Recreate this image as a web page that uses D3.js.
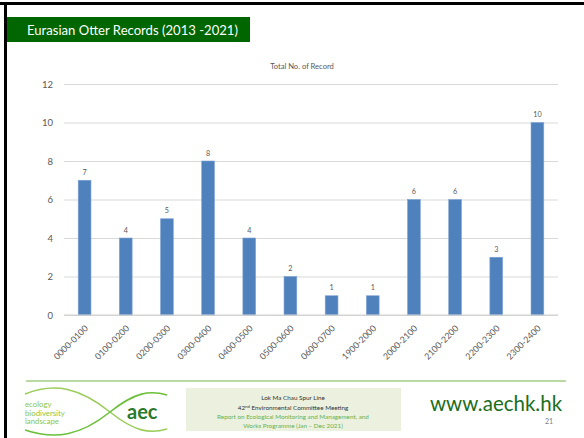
<!DOCTYPE html>
<html>
<head>
<meta charset="utf-8">
<script src="https://cdn.jsdelivr.net/npm/d3@7"></script>
<style>
  html, body { margin: 0; padding: 0; background: #fff; }
  svg { display: block; }
  text { font-family: Lato, "Open Sans", sans-serif; }
</style>
</head>
<body>
<svg id="slide" width="584" height="438"></svg>
<script>
// Records per hourly interval
const categories = ["0000-0100", "0100-0200", "0200-0300", "0300-0400", "0400-0500", "0500-0600",
                    "0600-0700", "1900-2000", "2000-2100", "2100-2200", "2200-2300", "2300-2400"];
const records = [7, 4, 5, 8, 4, 2, 1, 1, 6, 6, 3, 10];
const yTicks = [0, 2, 4, 6, 8, 10, 12];

const slideTitle = "Eurasian Otter Records (2013 -2021)";
const chartTitle = "Total No. of Record";
const footerLines = ["Lok Ma Chau Spur Line", "Environmental Committee Meeting",
                     "Report on Ecological Monitoring and Management, and",
                     "Works Programme (Jan \u2013 Dec 2021)"];

const svg = d3.select("#slide");

// slide frame
svg.append("rect").attr("x", 0).attr("y", 2).attr("width", 584).attr("height", 3).attr("fill", "#000");
svg.append("rect").attr("x", 4).attr("y", 2).attr("width", 3).attr("height", 436).attr("fill", "#000");

// title banner
svg.append("rect").attr("x", 7).attr("y", 17).attr("width", 243).attr("height", 25).attr("fill", "#006600");
svg.append("text").attr("x", 27).attr("y", 34.5).attr("fill", "#fff").attr("font-size", 13.1)
  .text(slideTitle);

// chart
const margin = { left: 64, right: 558, top: 84, bottom: 315 };
const x = d3.scaleBand().domain(categories).range([margin.left, margin.right]).paddingInner(0.69).paddingOuter(0.345);
const y = d3.scaleLinear().domain([0, 12]).range([margin.bottom, margin.top]);

svg.append("text").attr("x", 302).attr("y", 68.5).attr("text-anchor", "middle")
  .attr("font-size", 7.6).attr("fill", "#595959").text(chartTitle);

const yAxis = svg.append("g").attr("transform", `translate(${margin.left},0)`)
  .call(d3.axisLeft(y).tickValues(yTicks).tickSize(-(margin.right - margin.left)).tickPadding(11));
yAxis.select(".domain").remove();
yAxis.selectAll(".tick line").attr("stroke", "#d9d9d9").attr("stroke-width", 1);
yAxis.selectAll(".tick text").attr("fill", "#595959").attr("font-size", 9.5)
  .attr("font-family", "Lato, sans-serif");

svg.append("g").selectAll("rect").data(records).join("rect")
  .attr("x", (d, i) => x(categories[i]))
  .attr("y", d => y(d))
  .attr("width", x.bandwidth())
  .attr("height", d => y(0) - y(d))
  .attr("fill", "#4f81bd")
  .attr("stroke", "#7fa3d3").attr("stroke-width", 0.6);

svg.append("g").selectAll("text").data(records).join("text")
  .attr("x", (d, i) => x(categories[i]) + x.bandwidth() / 2)
  .attr("y", d => y(d) - 5.5)
  .attr("text-anchor", "middle").attr("font-size", 7.2).attr("fill", "#595959")
  .text(d => d);

// baseline
svg.append("line").attr("x1", margin.left).attr("x2", margin.right)
  .attr("y1", y(0)).attr("y2", y(0)).attr("stroke", "#d0d0d0");

const xAxis = svg.append("g").attr("transform", `translate(0,${margin.bottom})`)
  .call(d3.axisBottom(x).tickSize(0).tickPadding(0));
xAxis.select(".domain").remove();
xAxis.selectAll(".tick text")
  .attr("font-size", 8.8).attr("fill", "#595959").attr("font-family", "Lato, sans-serif")
  .attr("text-anchor", "end").attr("dy", 0)
  .attr("transform", "translate(4,14) rotate(-45)");

// footer rule
svg.append("line").attr("x1", 26).attr("x2", 566).attr("y1", 381).attr("y2", 381)
  .attr("stroke", "#77b347").attr("stroke-width", 1.2);

// logo
const logo = svg.append("g");
logo.append("path")
  .attr("d", "M25,394 C55,382 80,388 110,412 C135,432 150,434 167,429")
  .attr("fill", "none").attr("stroke", "#9ccc5a").attr("stroke-width", 1.6);
logo.append("path")
  .attr("d", "M25,430 C55,440 80,436 110,412 C135,392 150,390 167,395")
  .attr("fill", "none").attr("stroke", "#6cbf3a").attr("stroke-width", 1.6);
[["ecology", 407], ["biodiversity", 415.5], ["landscape", 424]].forEach(([t, yy]) => {
  logo.append("text").attr("x", 25).attr("y", yy).attr("font-size", 7.8).attr("fill", "#8cc63f").text(t);
});
logo.append("text").attr("x", 127).attr("y", 419).attr("font-size", 20).attr("font-weight", 700)
  .attr("fill", "#2c7a2c").text("aec");

// meeting box
svg.append("rect").attr("x", 186).attr("y", 388).attr("width", 215).attr("height", 43).attr("fill", "#ebf1de");
svg.append("text").attr("x", 293).attr("y", 400).attr("text-anchor", "middle")
  .attr("font-size", 6.3).attr("fill", "#333").text(footerLines[0]);
const l2 = svg.append("text").attr("x", 293).attr("y", 410).attr("text-anchor", "middle")
  .attr("font-size", 6.3).attr("fill", "#333");
l2.append("tspan").text("42");
l2.append("tspan").attr("font-size", 4.3).attr("dy", -2.5).text("nd");
l2.append("tspan").attr("dy", 2.5).text(" " + footerLines[1]);
svg.append("text").attr("x", 293).attr("y", 419).attr("text-anchor", "middle")
  .attr("font-size", 6.3).attr("fill", "#6ab04c").text(footerLines[2]);
svg.append("text").attr("x", 293).attr("y", 427.5).attr("text-anchor", "middle")
  .attr("font-size", 6.3).attr("fill", "#6ab04c").text(footerLines[3]);

// website and page number
svg.append("text").attr("x", 430).attr("y", 411).attr("font-size", 20.5).attr("fill", "#1b6e1b")
  .text("www.aechk.hk");
svg.append("text").attr("x", 553).attr("y", 424).attr("text-anchor", "end")
  .attr("font-size", 7).attr("fill", "#7f7f7f").text("21");
</script>
</body>
</html>
